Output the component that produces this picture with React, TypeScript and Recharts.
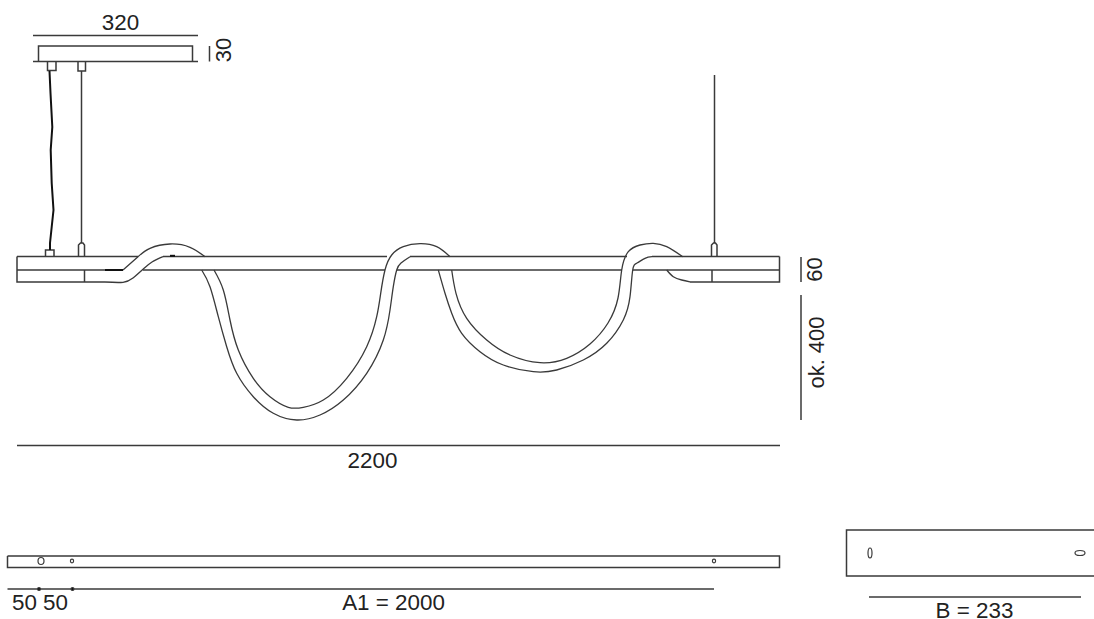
import { ComposedChart, Line, Scatter, XAxis, YAxis } from "recharts";

type Pt = [number, number];

const INK = "#3a3a3a";
const TEXT = "#222222";

// straight parts of the drawing, x/y
const straightPaths: Pt[][] = [
  // ceiling plate
  [[38.5, 61.5], [38.5, 46], [192.5, 46], [192.5, 61.5]],
  [[33, 61.5], [198, 61.5]],
  [[33, 35.5], [198, 35.5]],
  [[209.5, 46], [209.5, 61.5]],
  // hangers at the plate
  [[47.5, 62], [47.5, 70.5], [56, 70.5], [56, 62]],
  [[78, 62], [78, 71], [85.5, 71], [85.5, 62]],
  [[81.5, 71], [81.5, 243]],
  [[714.5, 75], [714.5, 243]],
  // caps on the bar
  [[45.5, 256], [45.5, 250], [54, 250], [54, 256]],
  [[78.5, 256], [78.5, 245], [80.5, 243], [83, 243], [84.5, 245], [84.5, 256]],
  [[711.5, 256], [711.5, 245], [713.5, 243], [715.5, 243], [717, 245], [717, 256]],
  // bar, top edge
  [[17, 256.5], [138, 256.5]],
  [[163, 256.5], [387, 256.5]],
  [[410, 256.5], [627, 256.5]],
  [[652, 256.5], [779.5, 256.5]],
  // bar, middle edge
  [[17, 270], [123, 270]],
  [[143, 270], [385, 270]],
  [[397, 270], [622, 270]],
  [[633, 270], [779.5, 270]],
  // bar ends
  [[17, 256.5], [17, 282], [105, 282]],
  [[779.5, 256.5], [779.5, 282], [690, 282]],
  [[84.5, 270], [84.5, 282]],
  [[712, 270], [712, 282]],
  // right and lower dimensions
  [[801, 257], [801, 282]],
  [[801, 295], [801, 420]],
  [[17, 445.5], [780, 445.5]],
  // lower views
  [[7.5, 556], [779.5, 556], [779.5, 567.5], [7.5, 567.5], [7.5, 556]],
  [[7.5, 589], [714, 589]],
  [[1094, 530], [846.5, 530], [846.5, 576], [1094, 576]],
  [[869, 597], [1081, 597]],
];

const wavyWire: Pt[] = [
  [49.5, 71], [50.5, 93], [52.3, 127], [50.7, 150], [51.7, 183], [53.5, 210], [51.7, 227], [50, 243], [50, 250],
];

const thickMarks: Pt[][] = [
  [[105, 270], [123, 270]],
  [[170, 255.8], [175, 255.8]],
];

// both edges of the tube, left to right
const tubeCurves: Pt[][] = [
  [[105, 282], [123, 282.3], [133, 278], [143, 269.3], [152, 262], [163, 256.7]],
  [[123, 270], [138, 256.7], [150, 248.3], [170, 244], [190, 247.3], [205, 256.7]],
  [
    [201.7, 270], [210, 286.7], [218.3, 316.7], [226.7, 346.7], [236.7, 373.3], [253.3, 396.7], [273.3, 413.3],
    [296.7, 420], [320, 415], [343.3, 400], [366.7, 373.3], [383.3, 340], [390, 310], [393.3, 286.7], [396.7, 270],
    [401, 263], [410, 256.7],
  ],
  [
    [214, 270], [223.3, 290], [230, 320], [238.3, 350], [253.3, 378.3], [270, 396.7], [288.3, 407.3], [303.3, 407.3],
    [323.3, 400], [346.7, 378.3], [366.7, 346.7], [376.7, 316.7], [380.7, 293.3], [385, 270], [391.7, 255],
    [403.3, 246.7], [420, 243.7], [436.7, 246.7], [450, 256.7],
  ],
  [
    [438.3, 270], [445, 293.3], [451.7, 313.3], [461.7, 333.3], [480, 351.7], [503.3, 365], [533.3, 371.7],
    [556.7, 370], [583.3, 360], [606.7, 343.3], [623.3, 320], [630, 296.7], [632.7, 270], [637, 263], [645, 258.3],
    [652, 256.7],
  ],
  [
    [451.7, 270], [456, 293.3], [466.7, 318.3], [486.7, 340], [510, 355], [540, 362.7], [566.7, 358.3], [590, 344],
    [608, 323], [618, 298], [621.7, 270], [628.3, 251.7], [640, 245], [653.3, 243.3], [666.7, 246.7], [682.7, 256.7],
  ],
  [[666.7, 270], [673.3, 276.7], [681.7, 280], [690, 282]],
];

const bigHoles: Pt[] = [[41, 561]];
const smallHoles: Pt[] = [[72, 561], [714, 561]];
const dimDots: Pt[] = [[39, 589], [72.5, 589]];
const slotTall: Pt[] = [[870, 553]];
const slotWide: Pt[] = [[1080, 553]];

const flatLabels = [
  { x: 120.5, y: 22, text: "320" },
  { x: 372.5, y: 460, text: "2200" },
  { x: 40, y: 602.5, text: "50 50" },
  { x: 393.5, y: 602, text: "A1 = 2000" },
  { x: 974.5, y: 610, text: "B = 233" },
];
const sideLabels = [
  { x: 223.5, y: 50, text: "30" },
  { x: 814.5, y: 269.5, text: "60" },
  { x: 816, y: 352.5, text: "ok. 400" },
];

const toRows = (pts: Pt[]) => pts.map(([x, y]) => ({ x, y }));

const FlatText = ({ cx, cy, payload }: any) => (
  <text x={cx} y={cy} fontFamily="Liberation Sans" fontSize={22.4} fill={TEXT} textAnchor="middle" dominantBaseline="central">
    {payload.text}
  </text>
);

const SideText = ({ cx, cy, payload }: any) => (
  <text
    x={cx}
    y={cy}
    fontFamily="Liberation Sans"
    fontSize={22}
    fill={TEXT}
    textAnchor="middle"
    dominantBaseline="central"
    transform={`rotate(-90 ${cx} ${cy})`}
  >
    {payload.text}
  </text>
);

const hole = (rx: number, ry: number, fill = "#fff") => (p: any) => (
  <ellipse cx={p.cx} cy={p.cy} rx={rx} ry={ry} fill={fill} stroke={INK} strokeWidth={1.2} />
);

export default function App() {
  return (
    <div style={{ position: "absolute", left: 0, top: 0, width: 1094, height: 619, background: "#fff" }}>
      <ComposedChart width={1094} height={619} margin={{ top: 0, right: 0, bottom: 0, left: 0 }}>
        <XAxis type="number" dataKey="x" domain={[0, 1094]} hide allowDataOverflow />
        <YAxis type="number" dataKey="y" domain={[0, 619]} reversed hide allowDataOverflow />
        {straightPaths.map((p, i) => (
          <Line key={`s${i}`} data={toRows(p)} dataKey="y" type="linear" stroke={INK} strokeWidth={1.5} dot={false} activeDot={false} isAnimationActive={false} />
        ))}
        {tubeCurves.map((p, i) => (
          <Line key={`t${i}`} data={toRows(p)} dataKey="y" type="natural" stroke={INK} strokeWidth={1.3} dot={false} activeDot={false} isAnimationActive={false} />
        ))}
        <Line data={toRows(wavyWire)} dataKey="y" type="linear" stroke="#111" strokeWidth={2} dot={false} activeDot={false} isAnimationActive={false} />
        {thickMarks.map((p, i) => (
          <Line key={`m${i}`} data={toRows(p)} dataKey="y" type="linear" stroke="#111" strokeWidth={2} dot={false} activeDot={false} isAnimationActive={false} />
        ))}
        <Scatter data={toRows(bigHoles)} shape={hole(3, 3.5)} isAnimationActive={false} />
        <Scatter data={toRows(smallHoles)} shape={hole(1.6, 1.8)} isAnimationActive={false} />
        <Scatter data={toRows(dimDots)} shape={hole(1.5, 1.5, "#111")} isAnimationActive={false} />
        <Scatter data={toRows(slotTall)} shape={hole(2, 5)} isAnimationActive={false} />
        <Scatter data={toRows(slotWide)} shape={hole(5, 2.5)} isAnimationActive={false} />
        <Scatter data={flatLabels} shape={FlatText} isAnimationActive={false} />
        <Scatter data={sideLabels} shape={SideText} isAnimationActive={false} />
      </ComposedChart>
    </div>
  );
}
